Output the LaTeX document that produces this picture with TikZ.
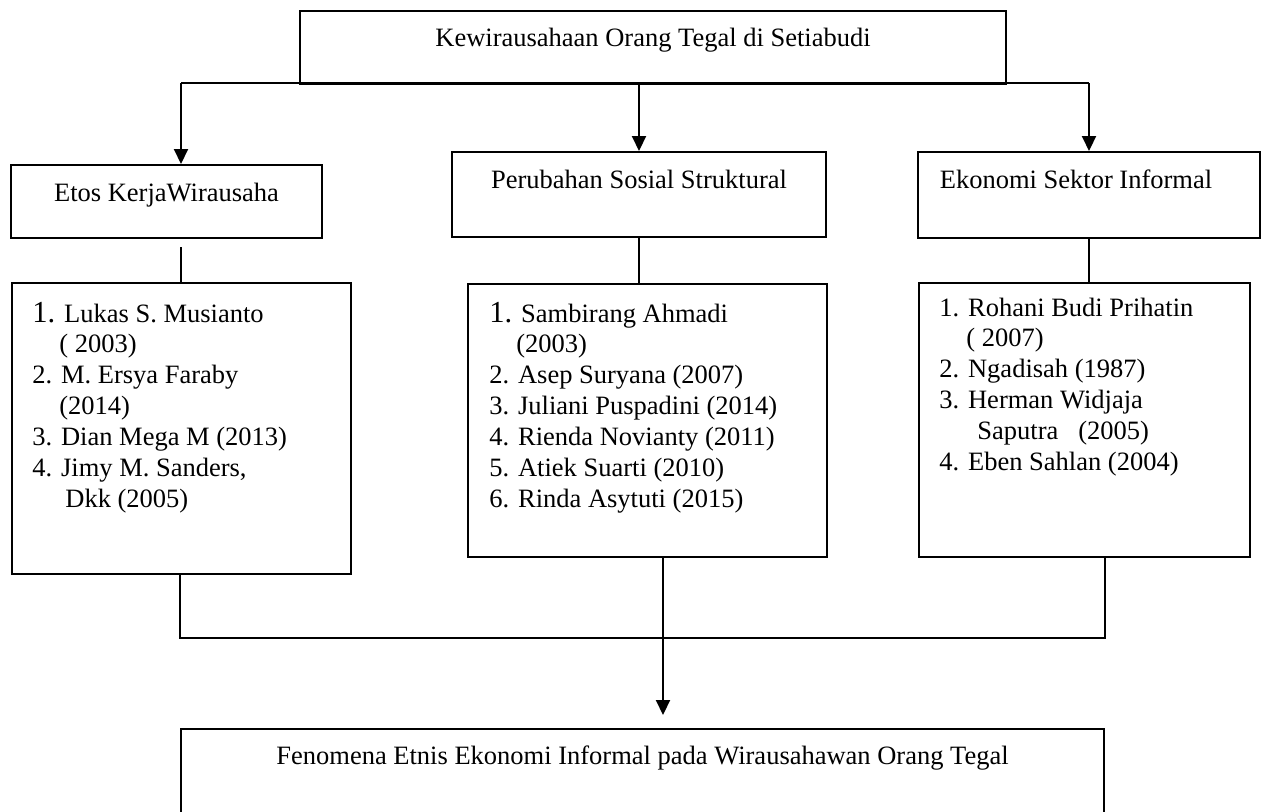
\documentclass[tikz,border=0pt]{standalone}
\usepackage{fontspec}
\setmainfont{Liberation Serif}
\usetikzlibrary{arrows.meta}
\newcommand{\bigone}{\fontsize{15.3}{15.45}\selectfont}
\tikzset{
  headbox/.style={draw,line width=1.1pt,inner sep=0pt,anchor=north,text height=18pt},
  listbox/.style={draw,line width=1.1pt,inner sep=0pt,anchor=north west},
  listtext/.style={inner sep=0pt,anchor=base west},
  link/.style={line width=1pt},
}
\begin{document}
\begin{tikzpicture}[x=0.5pt,y=-0.5pt,>={Triangle[length=7.5pt,width=7pt]},font=\fontsize{13.25}{15.45}\selectfont]
    \useasboundingbox (0,0) rectangle (1262,811);

    \node[headbox,minimum width=353pt,text height=17.5pt,text depth=19pt] (top) at (653,10) {Kewirausahaan Orang Tegal di Setiabudi};

    \node[headbox,minimum width=155.5pt,text depth=18.5pt] (etos) at (166.5,164) {Etos KerjaWirausaha};
    \node[headbox,minimum width=187pt,text depth=24.5pt] (perubahan) at (639,151) {Perubahan Sosial Struktural};
    \node[headbox,minimum width=171pt,text depth=25pt] (ekonomi) at (1089,151) {Ekonomi Sektor Informal\hspace*{13pt}};

    \node[listbox,minimum width=169.5pt,minimum height=145.5pt] (etoslist) at (11,282) {};
    \node[listbox,minimum width=179.5pt,minimum height=136.5pt] (perlist) at (467,283) {};
    \node[listbox,minimum width=165.5pt,minimum height=137pt] (ekolist) at (918,282) {};

    \node[listtext] (etostext) at (32,322) {\begin{minipage}[t]{160pt}
      {\bigone 1.} Lukas S. Musianto\\
      \hspace*{13.5pt}( 2003)\\
      2. M. Ersya Faraby\\
      \hspace*{13.5pt}(2014)\\
      3. Dian Mega M (2013)\\
      4. Jimy M. Sanders,\\
      \hspace*{16.5pt}Dkk (2005)
    \end{minipage}};
    \node[listtext] (pertext) at (489,322) {\begin{minipage}[t]{165pt}
      {\bigone 1.} Sambirang Ahmadi\\
      \hspace*{13.5pt}(2003)\\
      2. Asep Suryana (2007)\\
      3. Juliani Puspadini (2014)\\
      4. Rienda Novianty (2011)\\
      5. Atiek Suarti (2010)\\
      6. Rinda Asytuti (2015)
    \end{minipage}};
    \node[listtext] (ekotext) at (939,316) {\begin{minipage}[t]{150pt}
      1. Rohani Budi Prihatin\\
      \hspace*{13.5pt}( 2007)\\
      2. Ngadisah (1987)\\
      3. Herman Widjaja\\
      \hspace*{19pt}Saputra\hspace{10pt}(2005)\\
      4. Eben Sahlan (2004)
    \end{minipage}};

    \node[headbox,minimum width=461.5pt,text height=17.5pt,text depth=28.5pt] (final) at (642.5,728) {Fenomena Etnis Ekonomi Informal pada Wirausahawan Orang Tegal};

    \coordinate (split) at (181,83);
    \coordinate (etosgap) at (180.5,247);
    \coordinate (join) at (663,638);
    \coordinate (finaltip) at (663,715);

    \draw[link] (split) -- (ekonomi.north |- split);
    \draw[link,->] (split) -- (split |- etos.north);
    \draw[link,->] (perubahan.north |- split) -- (perubahan.north);
    \draw[link,->] (ekonomi.north |- split) -- (ekonomi.north);

    \draw[link] (etosgap) -- (etosgap |- etoslist.north);
    \draw[link] (perubahan.south) -- (perubahan.south |- perlist.north);
    \draw[link] (ekonomi.south) -- (ekonomi.south |- ekolist.north);

    \draw[link] (final.west |- etoslist.south) -- (final.west |- join) -- (final.east |- join) -- (final.east |- ekolist.south);
    \draw[link,->] (join |- perlist.south) -- (finaltip);
\end{tikzpicture}
\end{document}
